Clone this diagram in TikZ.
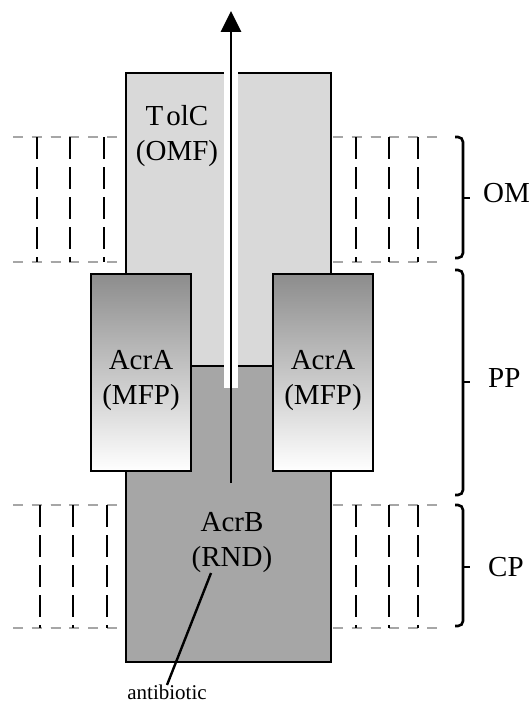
\documentclass[tikz,border=0pt]{standalone}
\usepackage{fontspec}
\setmainfont{Liberation Serif}
\usetikzlibrary{arrows.meta,positioning}
\definecolor{tolcgray}{RGB}{217,217,217}
\definecolor{acrbgray}{RGB}{166,166,166}
\definecolor{lipidgray}{RGB}{95,95,95}

\begin{document}
\begin{tikzpicture}[x=1pt, y=-1pt,
  box/.style={draw, line width=2.7pt, inner sep=0pt, outer sep=0pt, anchor=north west},
  pump/.style={box, top color=black!45, bottom color=white, minimum width=100pt, minimum height=197pt},
  label/.style={font=\fontsize{29}{35}\selectfont, align=center, inner sep=0pt},
  side/.style={font=\fontsize{29}{35}\selectfont, anchor=base west, inner sep=0pt},
  lipid/.style={draw=lipidgray, double=black!35, double distance=1.1pt, line width=0.9pt, dash pattern=on 10pt off 8.8pt},
  tail/.style={line width=2.4pt, dash pattern=on 22pt off 8pt},
  brace/.style={line width=2.6pt, rounded corners=5pt},
  arrow/.style={-{Triangle[length=21pt, width=20pt]}, line width=2.8pt},
]
\useasboundingbox (0,0) rectangle (531,706);

% Membranes
\foreach \ya/\yb/\xa/\xb/\xc in {137/262/37/70/104, 505/628/40/73/107} {
  \draw[lipid] (13,\ya) -- (118,\ya);
  \draw[lipid] (13,\yb) -- (118,\yb);
  \draw[lipid] (333,\ya) -- (438,\ya);
  \draw[lipid] (333,\yb) -- (438,\yb);
  \foreach \x in {\xa,\xb,\xc,356,389,418}
    \draw[tail] (\x,\ya) -- (\x,\yb);
}

% Proteins
\node[box, fill=tolcgray, minimum width=205pt, minimum height=293pt] (tolc) at (126,73) {};
\node[box, fill=acrbgray, minimum width=205pt, minimum height=296pt] (acrb) at (126,366) {};
\node[pump] (acraL) at (91,274) {};
\node[pump] (acraR) at (273,274) {};

% Channel
\fill[white] (224,69) rectangle (238,388);
\coordinate (entry) at (231,483);
\coordinate (exit) at (231,11);
\draw[arrow] (entry) -- (exit);

% Labels
\node[label] (tolcname) at (177,136) {T\kern3pt olC\\(OMF)};
\node[label] (acraLname) at (141,381) {AcrA\\(MFP)};
\node[label] (acraRname) at (323,381) {AcrA\\(MFP)};
\node[label] (acrbname) at (232,543) {AcrB\\(RND)};
\node[font=\fontsize{21}{25}\selectfont, inner sep=0pt, anchor=north] (antib) at (167,685) {antibiotic};
\coordinate (abin) at (211,573);
\draw[line width=2.4pt] (abin) -- (antib.north);

% Compartments
\foreach \ytop/\ymid/\ybot/\yt/\xt/\name in {137/198/258/202/483/OM, 270/382/495/387/488/PP, 505/567/626/576/488/CP} {
  \draw[brace] (455,\ytop) -- (463,\ytop) -- (463,\ybot) -- (455,\ybot);
  \draw[line width=2.6pt] (463,\ymid) -- (470,\ymid);
  \node[side] at (\xt,\yt) {\name};
}
\end{tikzpicture}
\end{document}
